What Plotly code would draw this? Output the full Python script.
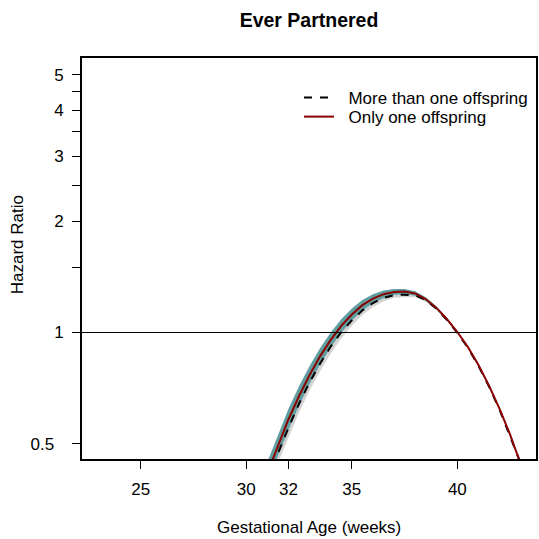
import plotly.graph_objects as go

# Gestational age grid (weeks)
weeks = [31, 31.5, 32, 32.5, 33, 33.5, 34, 34.5, 35, 35.5, 36, 36.5, 37, 37.5,
         38, 38.5, 39, 39.5, 40, 40.5, 41, 41.5, 42, 42.5, 43, 43.5]

# Only one offspring (red) with CI band (teal)
hr_one = [0.416, 0.495, 0.582, 0.673, 0.767, 0.863, 0.955, 1.042, 1.119, 1.186, 1.235, 1.270, 1.288, 1.291,
          1.276, 1.232, 1.168, 1.088, 1.003, 0.914, 0.816, 0.718, 0.621, 0.529, 0.444, 0.366]
hr_one_hi = [0.446, 0.529, 0.621, 0.715, 0.811, 0.908, 1.000, 1.086, 1.162, 1.225, 1.270, 1.299, 1.312, 1.312,
             1.294, 1.247, 1.178, 1.096, 1.008, 0.919, 0.820, 0.722, 0.624, 0.532, 0.446, 0.368]
hr_one_lo = [0.388, 0.463, 0.545, 0.634, 0.726, 0.820, 0.912, 1.000, 1.078, 1.148, 1.201, 1.241, 1.264, 1.271,
             1.258, 1.217, 1.158, 1.080, 0.998, 0.909, 0.812, 0.714, 0.618, 0.526, 0.442, 0.364]

# More than one offspring (dashed black) with CI band (gray)
hr_more = [0.394, 0.470, 0.552, 0.641, 0.733, 0.824, 0.916, 1.002, 1.079, 1.148, 1.202, 1.241, 1.263, 1.266,
           1.262, 1.225, 1.162, 1.083, 0.998, 0.909, 0.812, 0.714, 0.618, 0.526, 0.442, 0.364]
hr_more_hi = [0.420, 0.499, 0.585, 0.677, 0.771, 0.864, 0.956, 1.042, 1.117, 1.182, 1.233, 1.267, 1.284, 1.285,
              1.278, 1.238, 1.172, 1.091, 1.003, 0.914, 0.816, 0.718, 0.621, 0.529, 0.444, 0.366]
hr_more_lo = [0.370, 0.443, 0.521, 0.607, 0.697, 0.786, 0.877, 0.963, 1.043, 1.115, 1.172, 1.215, 1.242, 1.247,
              1.246, 1.212, 1.152, 1.075, 0.993, 0.904, 0.808, 0.710, 0.615, 0.523, 0.440, 0.362]

x_ticks = [25, 30, 32, 35, 40]
y_ticks = [0.5, 1, 1.5, 2, 2.5, 3, 3.5, 4, 4.5, 5]
y_ticktext = ["0.5\u00a0\u00a0", "1", "", "2", "", "3", "", "4", "", "5"]

FONT = "Liberation Sans, Arial, sans-serif"
FS = 17

fig = go.Figure()

# gray band
fig.add_trace(go.Scatter(x=weeks + weeks[::-1], y=hr_more_hi + hr_more_lo[::-1],
                         fill="toself", fillcolor="#d3d3d3", line=dict(width=0),
                         mode="lines", showlegend=False, hoverinfo="skip"))
# teal band
fig.add_trace(go.Scatter(x=weeks + weeks[::-1], y=hr_one_hi + hr_one_lo[::-1],
                         fill="toself", fillcolor="#5f9ea0", line=dict(width=0),
                         mode="lines", showlegend=False, hoverinfo="skip"))

fig.add_trace(go.Scatter(x=weeks, y=hr_more, mode="lines",
                         name="\u00a0\u00a0More than one offspring", legend="legend",
                         line=dict(color="black", width=2, dash="8px,8px")))
fig.add_trace(go.Scatter(x=weeks, y=hr_one, mode="lines",
                         name="\u00a0\u00a0Only one offspring", legend="legend2",
                         line=dict(color="#8b0000", width=2)))

fig.add_hline(y=1, line=dict(color="black", width=1))

legend_common = dict(x=0.478, xanchor="left", yanchor="top", bgcolor="rgba(0,0,0,0)",
                     font=dict(size=FS, family=FONT), itemwidth=30)

fig.update_layout(
    width=539, height=539,
    margin=dict(l=82, r=1, t=58, b=80),
    paper_bgcolor="white", plot_bgcolor="white",
    font=dict(family=FONT, size=FS, color="black"),
    title=dict(text="<b>Ever Partnered</b>", x=0.5, xref="paper", xanchor="center",
               y=0.963, yanchor="middle", font=dict(size=19.5, family=FONT)),
    showlegend=True,
    legend=dict(y=0.945, **legend_common),
    legend2=dict(y=0.8976, **legend_common),
    annotations=[
        dict(text="Gestational Age (weeks)", xref="paper", yref="paper", x=0.5, y=-0.172,
             xanchor="center", yanchor="middle", showarrow=False, font=dict(size=FS)),
        dict(text="Hazard Ratio", xref="paper", yref="paper", x=-0.1404, y=0.5337,
             xanchor="center", yanchor="middle", textangle=-90, showarrow=False,
             font=dict(size=FS)),
    ],
)

fig.update_xaxes(range=[22.217, 43.726], tickmode="array", tickvals=x_ticks,
                 ticks="outside", ticklen=8, tickwidth=1, tickcolor="black",
                 showline=True, linewidth=2, linecolor="black", mirror=True,
                 showgrid=False, zeroline=False, ticklabelstandoff=6,
                 tickfont=dict(size=FS))
fig.update_yaxes(type="log", range=[-0.3428, 0.7439], tickmode="array",
                 tickvals=y_ticks, ticktext=y_ticktext,
                 ticks="outside", ticklen=8, tickwidth=1, tickcolor="black",
                 showline=True, linewidth=2, linecolor="black", mirror=True,
                 showgrid=False, zeroline=False, ticklabelstandoff=5,
                 tickfont=dict(size=FS))

fig.write_html("out.html")
